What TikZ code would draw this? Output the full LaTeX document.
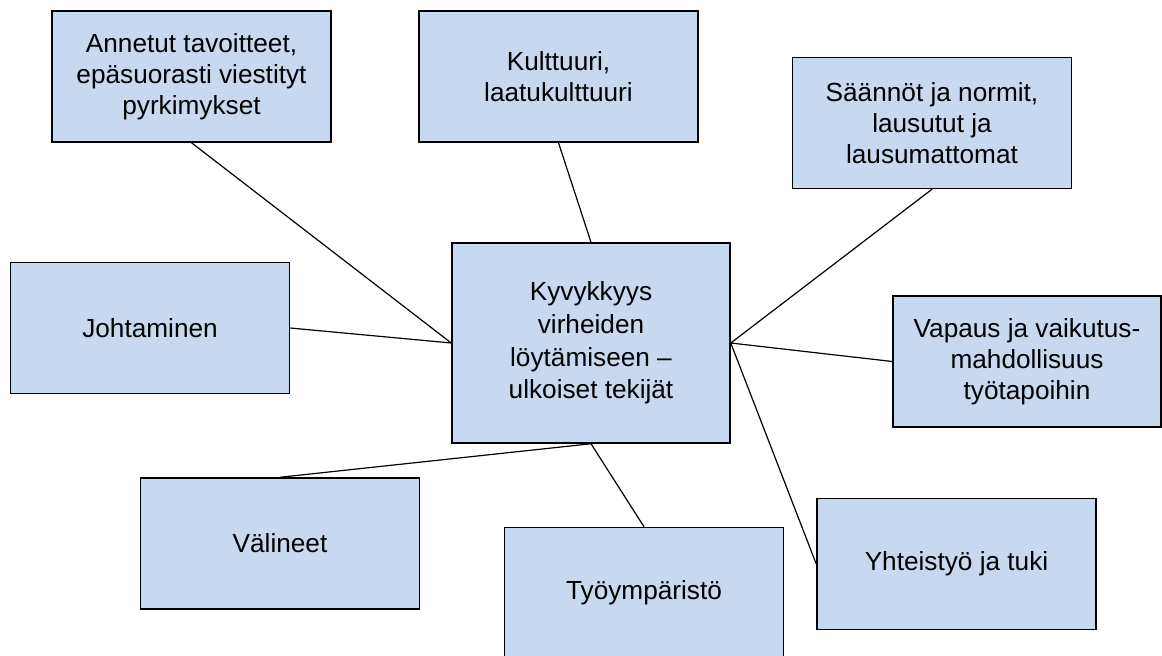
\documentclass[tikz,border=0pt]{standalone}
\usepackage{fontspec}
\setmainfont{Liberation Sans}
\usepackage{tikz}
\usepackage{xcolor}
\definecolor{boxblue}{HTML}{C6D9F1}
\tikzset{%
    factor/.style={%
        draw=black, fill=boxblue, line width=0.75pt,
        minimum width=139.5pt, minimum height=65.5pt,
        inner sep=2pt, align=center,
        font=\fontsize{13.1}{15.6}\selectfont
    },
    link/.style={line width=0.6pt}
}

\begin{document}
\begin{tikzpicture}[x=0.5pt,y=0.5pt]
\useasboundingbox (0,0) rectangle (1162,655);
% keskimmainen laatikko
\node[factor,minimum width=139pt,minimum height=100pt,
  font=\fontsize{13.1}{16.3}\selectfont] (kyky) at (591,312)
  {Kyvykkyys\\virheiden\\löytämiseen –\\ulkoiset tekijät};
% ulkoiset tekijat
\node[factor] (annetut) at (191.5,578.5) {Annetut tavoitteet,\\epäsuorasti viestityt\\pyrkimykset};
\node[factor] (kulttuuri) at (558.5,578.5) {Kulttuuri,\\laatukulttuuri};
\node[factor] (saannot) at (932,532) {Säännöt ja normit,\\lausutut ja\\lausumattomat};
\node[factor] (johtaminen) at (150,327) {Johtaminen};
\node[factor,minimum width=134pt] (vapaus) at (1027,293.5) {Vapaus ja vaikutus-\\mahdollisuus\\työtapoihin};
\node[factor] (valineet) at (280,111.5) {Välineet};
\node[factor] (ymparisto) at (644,62) {Työympäristö};
\node[factor] (yhteistyo) at (956.5,91) {Yhteistyö ja tuki};
% viivat
\draw[link] (annetut.south) -- (kyky.west);
\draw[link] (kulttuuri.south) -- (kyky.north);
\draw[link] (saannot.south) -- (kyky.east);
\draw[link] (johtaminen.east) -- (kyky.west);
\draw[link] (vapaus.west) -- (kyky.east);
\draw[link] (valineet.north) -- (kyky.south);
\draw[link] (ymparisto.north) -- (kyky.south);
\draw[link] (yhteistyo.west) -- (kyky.east);
\end{tikzpicture}
\end{document}
